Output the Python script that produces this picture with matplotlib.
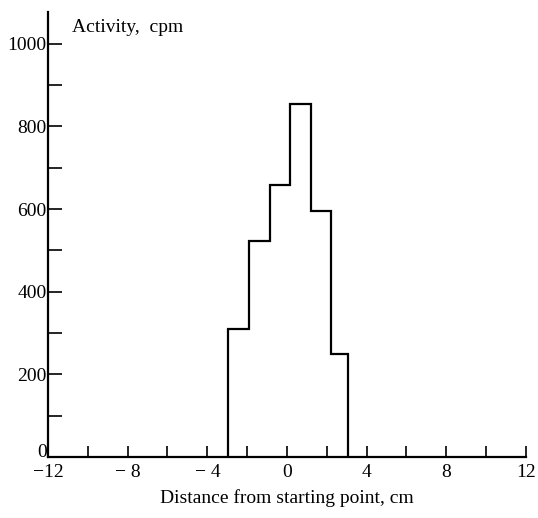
import numpy as np
import matplotlib
matplotlib.use("Agg")
import matplotlib.pyplot as plt
import matplotlib.transforms as mtransforms

# bin edges (cm) and activity (cpm)
edges = [-2.95, -1.9, -0.85, 0.15, 1.2, 2.2, 3.05]
activity = [309, 523, 658, 854, 595, 250]

xticks = [-12, -10, -8, -6, -4, -2, 0, 2, 4, 6, 8, 10, 12]
xlabels = ['\u221212', '', '\u2212 8', '', '\u2212 4', '', '0', '', '4', '', '8', '', '12']
yticks = [0, 100, 200, 300, 400, 500, 600, 700, 800, 900, 1000]
ylabels = ['0', '', '200', '', '400', '', '600', '', '800', '', '1000']

plt.rcParams['font.family'] = ['Liberation Serif', 'DejaVu Serif']

fig = plt.figure(figsize=(5.38, 5.18), dpi=100)
ax = fig.add_axes([0.0892, 0.1178, 0.8885, 0.859])

ax.stairs(activity, edges, baseline=0, color='black', linewidth=1.6)

ax.set_xlim(-12, 12)
ax.set_ylim(0, 1077)
ax.spines['top'].set_visible(False)
ax.spines['right'].set_visible(False)
ax.spines['left'].set_linewidth(1.6)
ax.spines['bottom'].set_linewidth(1.6)

ax.set_xticks(xticks)
ax.set_xticklabels(xlabels, fontsize=14)
ax.set_yticks(yticks)
ax.set_yticklabels(ylabels, fontsize=14)
ax.tick_params(axis='x', direction='in', length=8, width=1.2, pad=5)
ax.tick_params(axis='y', direction='in', length=10, width=1.2, pad=1)

# the "0" on the y axis sits a little above the x axis in the original
lab0 = ax.get_yticklabels()[0]
lab0.set_transform(lab0.get_transform() +
                   mtransforms.ScaledTranslation(0, 5 / 72, fig.dpi_scale_trans))

ax.text(0.05, 0.985, 'Activity,  cpm', transform=ax.transAxes,
        fontsize=14, va='top', ha='left')
ax.set_xlabel('Distance from starting point, cm', fontsize=14, labelpad=6)

fig.savefig('out.png', dpi=100)
